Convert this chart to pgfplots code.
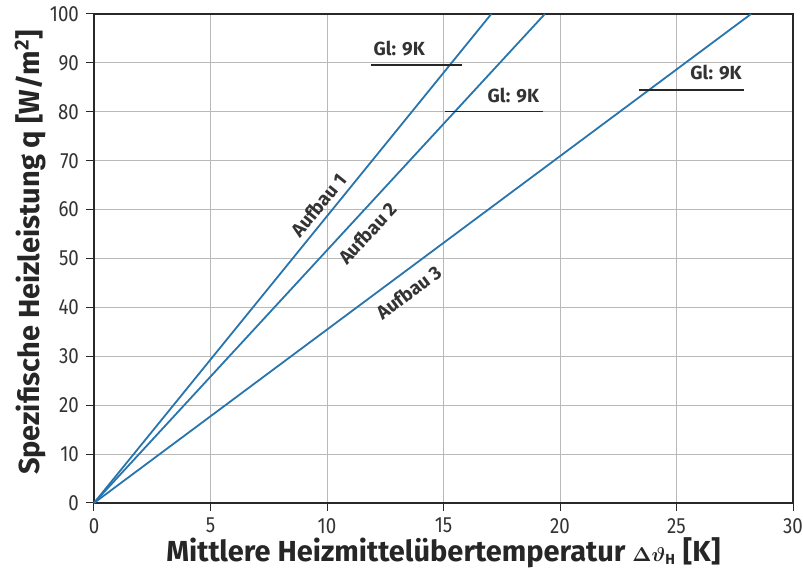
\documentclass[border=0pt]{standalone}
\usepackage{fontspec}
\setmainfont{Fira Sans}
\newfontfamily\tickfont{Fira Sans}[FakeStretch=0.85]
\usepackage{pgfplots}
\pgfplotsset{compat=1.18}
\definecolor{lineblue}{RGB}{40,116,172}
\definecolor{gridgray}{RGB}{185,185,185}
\definecolor{framegray}{RGB}{40,40,40}
\begin{document}
\begin{tikzpicture}
\begin{axis}[
  scale only axis,
  width=349.5pt, height=244.5pt,
  xmin=0, xmax=30, ymin=0, ymax=100,
  xtick={0,5,...,30}, ytick={0,10,...,100},
  grid=major,
  major grid style={gridgray, line width=0.5pt},
  axis line style={framegray, line width=0.7pt},
  tick align=outside, tick pos=left,
  major tick length=4pt,
  tick style={framegray, line width=0.5pt},
  /pgf/number format/assume math mode=true,
  ticklabel style={font=\tickfont\fontsize{11}{13}\selectfont, text=black!80},
  xlabel={Mittlere Heizmittelübertemperatur {\boldmath$\scriptstyle\Delta\vartheta_{\mathrm{H}}$} [K]},
  ylabel={Spezifische Heizleistung q [W/m\textsuperscript{2}]},
  label style={font=\fontsize{14.5}{16}\selectfont\bfseries, text=black!85},
  xlabel style={at={([yshift=-29.5pt]axis description cs:0.5,0)}, anchor=base},
  ylabel style={at={([xshift=-32pt,yshift=3pt]axis description cs:0,0.5)}, anchor=center},
  clip=false,
]
% heating characteristics of the three floor constructions
\addplot[lineblue, line width=0.9pt] coordinates {(0,0) (17.05,100)};
\addplot[lineblue, line width=0.9pt] coordinates {(0,0) (19.35,100)};
\addplot[lineblue, line width=0.9pt] coordinates {(0,0) (28.2,100)};
% limit lines at 9 K spread
\addplot[black!85, line width=0.8pt] coordinates {(11.9,89.6) (15.8,89.6)};
\addplot[black!85, line width=0.8pt] coordinates {(15.05,80.1) (19.25,80.1)};
\addplot[black!85, line width=0.8pt] coordinates {(23.4,84.5) (27.9,84.5)};
\begin{scope}[every node/.style={font=\fontsize{9.5}{11}\selectfont\bfseries, text=black!80, inner sep=1pt}]
\node at (axis cs:13.1,92.9) {Gl: 9K};
\node at (axis cs:18.0,83.4) {Gl: 9K};
\node at (axis cs:26.7,88.0) {Gl: 9K};
\node[rotate=51] at (axis cs:9.64,60.9) {Aufbau 1};
\node[rotate=47] at (axis cs:11.75,55.2) {Aufbau 2};
\node[rotate=37] at (axis cs:13.5,43.1) {Aufbau 3};
\end{scope}
\end{axis}
\pgfresetboundingbox
\path[use as bounding box] ([xshift=-47pt,yshift=-37pt]current axis.south west)
  rectangle ([xshift=5pt,yshift=7pt]current axis.north east);
\end{tikzpicture}
\end{document}
